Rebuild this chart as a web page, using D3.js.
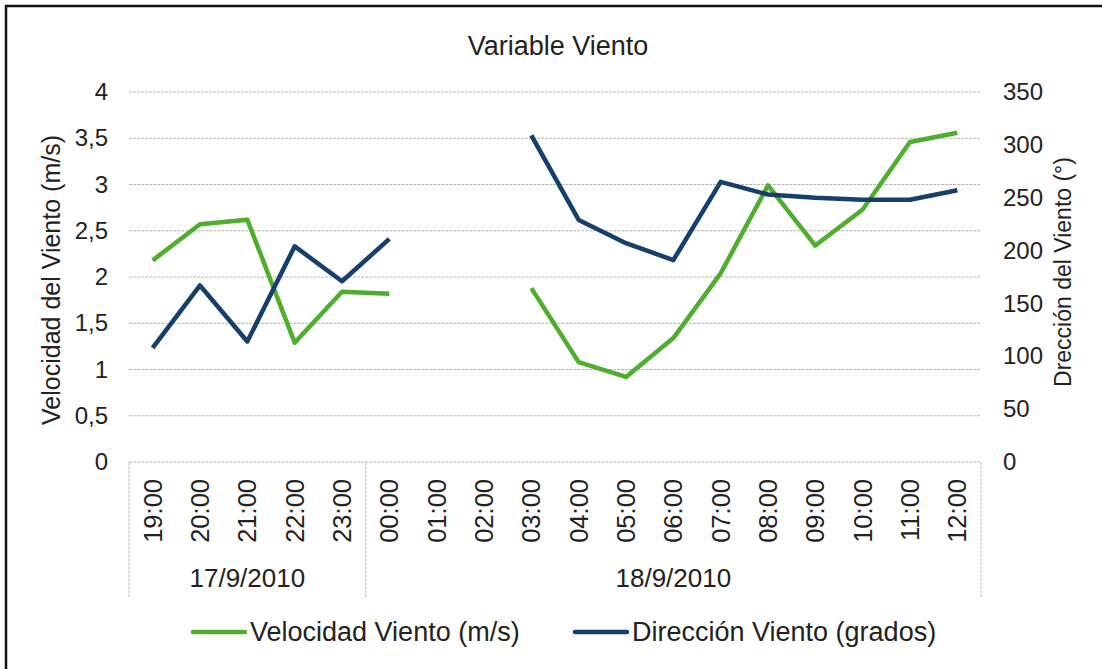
<!DOCTYPE html>
<html>
<head>
<meta charset="utf-8">
<script src="https://cdn.jsdelivr.net/npm/d3@7"></script>
<style>
  body { margin: 0; background: #fff; }
  svg { font-family: "Liberation Sans", Arial, sans-serif; }
</style>
</head>
<body>
<div id="chart"></div>
<script>
// categories (hours) and their day groups
const hours = ["19:00","20:00","21:00","22:00","23:00","00:00","01:00","02:00","03:00",
  "04:00","05:00","06:00","07:00","08:00","09:00","10:00","11:00","12:00"];
const days = [
  {label: "17/9/2010", from: 0, to: 5},
  {label: "18/9/2010", from: 5, to: 18}
];

// series values (null = no reading)
const velocidad = [2.18, 2.57, 2.62, 1.29, 1.84, 1.82, null, null, 1.88,
  1.08, 0.92, 1.34, 2.04, 2.99, 2.34, 2.73, 3.46, 3.56];
const direccion = [108, 167, 114, 204, 171, 211, null, null, 309,
  229, 207, 191, 265, 253, 250, 248, 248, 257];

const leftTicks = [0, 0.5, 1, 1.5, 2, 2.5, 3, 3.5, 4];
const rightTicks = [0, 50, 100, 150, 200, 250, 300, 350];

const cfg = {
  width: 1102, height: 669,
  margin: {left: 129, right: 121, top: 92, bottom: 207}
};
const green = "#4fae2e";
const navy = "#163f6b";
const ink = "#222";

const svg = d3.select("#chart").append("svg")
  .attr("width", cfg.width)
  .attr("height", cfg.height);

// outer frame (only top and left edges show in the crop)
svg.append("rect")
  .attr("x", 6).attr("y", 6)
  .attr("width", 1200).attr("height", 800)
  .attr("fill", "none")
  .attr("stroke", "#111")
  .attr("stroke-width", 2.5);

const x0 = cfg.margin.left, x1 = cfg.width - cfg.margin.right;
const yBottom = cfg.height - cfg.margin.bottom, yTop = cfg.margin.top;

const xScale = d3.scaleBand().domain(hours).range([x0, x1]);
const yLeft = d3.scaleLinear().domain([0, 4]).range([yBottom, yTop]);
const yRight = d3.scaleLinear().domain([0, 350]).range([yBottom, yTop]);

// title
svg.append("text")
  .attr("x", 558).attr("y", 55)
  .attr("text-anchor", "middle")
  .style("font-size", "27px")
  .attr("fill", ink)
  .text("Variable Viento");

// grid lines
svg.append("g")
  .selectAll("line")
  .data(leftTicks)
  .join("line")
  .attr("x1", x0).attr("x2", x1)
  .attr("y1", d => yLeft(d)).attr("y2", d => yLeft(d))
  .attr("stroke", "#b8b8b8")
  .attr("stroke-width", 1)
  .attr("stroke-dasharray", "3,1");

// left axis
const leftAxis = svg.append("g")
  .attr("transform", `translate(${x0}, 0)`)
  .call(d3.axisLeft(yLeft).tickValues(leftTicks).tickSize(0).tickPadding(21)
    .tickFormat(d => String(d).replace(".", ",")));
leftAxis.select(".domain").remove();

// right axis
const rightAxis = svg.append("g")
  .attr("transform", `translate(${x1}, 0)`)
  .call(d3.axisRight(yRight).tickValues(rightTicks).tickSize(0).tickPadding(22));
rightAxis.select(".domain").remove();

[leftAxis, rightAxis].forEach(ax => {
  ax.attr("font-family", null).attr("font-size", null);
  ax.selectAll("text").style("font-size", "24px").attr("fill", ink);
});

// axis titles
svg.append("text")
  .attr("transform", `translate(60, 280) rotate(-90)`)
  .attr("text-anchor", "middle")
  .style("font-size", "25px")
  .attr("fill", ink)
  .text("Velocidad del Viento (m/s)");

svg.append("text")
  .attr("transform", `translate(1071, 272) rotate(-90)`)
  .attr("text-anchor", "middle")
  .style("font-size", "23px")
  .attr("fill", ink)
  .text("Drección del Viento (°)");

// category axis: boxed day groups
const catBottom = 597;
const catG = svg.append("g");
const bounds = [0, 5, 18];
catG.selectAll("line.sep")
  .data(bounds)
  .join("line")
  .attr("class", "sep")
  .attr("x1", i => i < hours.length ? xScale(hours[i]) : x1)
  .attr("x2", i => i < hours.length ? xScale(hours[i]) : x1)
  .attr("y1", yBottom).attr("y2", catBottom)
  .attr("stroke", "#c0c0c0")
  .attr("stroke-dasharray", "3,1");

catG.selectAll("text.hour")
  .data(hours)
  .join("text")
  .attr("class", "hour")
  .attr("transform", d => `translate(${xScale(d) + xScale.bandwidth() / 2 + 9}, 479) rotate(-90)`)
  .attr("text-anchor", "end")
  .style("font-size", "25.5px")
  .attr("fill", ink)
  .text(d => d);

catG.selectAll("text.day")
  .data(days)
  .join("text")
  .attr("class", "day")
  .attr("x", d => (xScale(hours[d.from]) + (d.to < hours.length ? xScale(hours[d.to]) : x1)) / 2)
  .attr("y", 587)
  .attr("text-anchor", "middle")
  .style("font-size", "26px")
  .attr("fill", ink)
  .text(d => d.label);

// lines
const cx = i => xScale(hours[i]) + xScale.bandwidth() / 2;

const lineV = d3.line()
  .defined(d => d !== null)
  .x((d, i) => cx(i))
  .y(d => yLeft(d));
const lineD = d3.line()
  .defined(d => d !== null)
  .x((d, i) => cx(i))
  .y(d => yRight(d));

svg.append("path")
  .attr("d", lineV(velocidad))
  .attr("fill", "none")
  .attr("stroke", green)
  .attr("stroke-width", 4.5)
  .attr("stroke-linejoin", "round");

svg.append("path")
  .attr("d", lineD(direccion))
  .attr("fill", "none")
  .attr("stroke", navy)
  .attr("stroke-width", 4.5)
  .attr("stroke-linejoin", "round");

// legend
const legend = [
  {label: "Velocidad Viento (m/s)", color: green, x: 193},
  {label: "Dirección Viento (grados)", color: navy, x: 575}
];
const lg = svg.append("g").selectAll("g").data(legend).join("g")
  .attr("transform", d => `translate(${d.x}, 632)`);
lg.append("line")
  .attr("x1", 0).attr("x2", 52)
  .attr("stroke", d => d.color)
  .attr("stroke-width", 4.5)
  .attr("stroke-linecap", "round");
lg.append("text")
  .attr("x", 57).attr("y", 9)
  .style("font-size", "27px")
  .attr("fill", ink)
  .text(d => d.label);
</script>
</body>
</html>
